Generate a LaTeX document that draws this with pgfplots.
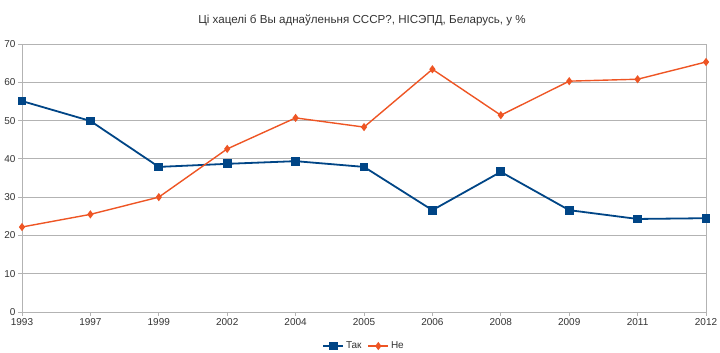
\documentclass[border=0pt]{standalone}
\usepackage{fontspec}
\setmainfont{Liberation Sans}
\usepackage{pgfplots}
\pgfplotsset{compat=1.18}
\definecolor{tak}{HTML}{004586}
\definecolor{ne}{HTML}{EE5524}
\definecolor{gridc}{HTML}{B3B3B3}
\definecolor{txt}{HTML}{333333}
\begin{document}
\begin{tikzpicture}
\path[use as bounding box] (-22pt,-41pt) rectangle (698pt,312pt);
\begin{axis}[
  at={(0,0)}, anchor=south west,
  scale only axis, width=684pt, height=268pt,
  xmin=0, xmax=10, ymin=0, ymax=70,
  xtick={0,...,10},
  xticklabels={1993,1997,1999,2002,2004,2005,2006,2008,2009,2011,2012},
  ytick={0,10,...,70},
  ymajorgrids, grid style={gridc, line width=0.8pt},
  axis line style={gridc, line width=0.8pt},
  tick style={gridc, line width=0.8pt},
  xtick pos=bottom, ytick pos=left,
  tick align=outside, major tick length=4pt,
  /pgf/number format/assume math mode=true,
  ticklabel style={font=\fontsize{10}{12}\selectfont, text=txt},
  xticklabel style={yshift=1pt},
  yticklabel style={xshift=1pt},
  legend style={at={(0.5,-0.127)}, anchor=center, draw=none, fill=none,
    font=\fontsize{10}{12}\selectfont, text=txt, legend columns=2,
    /tikz/every even column/.append style={column sep=4pt}},
  legend image code/.code={
    \draw[#1, mark repeat=2, mark phase=2] plot coordinates {(0pt,0pt) (10pt,0pt) (20pt,0pt)};
  },
  legend cell align=left,
]
\addplot[tak, line width=1.8pt, mark=square*, mark size=3.5pt, mark options={solid}] coordinates {
(0,55.1) (1,49.9) (2,37.9) (3,38.7) (4,39.4) (5,37.9) (6,26.6) (7,36.6) (8,26.6) (9,24.3) (10,24.5)};
\addlegendentry{Так}
\addplot[ne, line width=1.4pt, mark=diamond*, mark size=3pt, mark options={solid}] coordinates {
(0,22.2) (1,25.5) (2,30.0) (3,42.6) (4,50.7) (5,48.3) (6,63.4) (7,51.4) (8,60.3) (9,60.8) (10,65.3)};
\addlegendentry{Не}
\end{axis}
\node[text=txt, font=\fontsize{11.6}{14}\selectfont] at (340pt,292pt) {Ці хацелі б Вы аднаўленьня СССР?, НІСЭПД, Беларусь, у \%};
\end{tikzpicture}
\end{document}
